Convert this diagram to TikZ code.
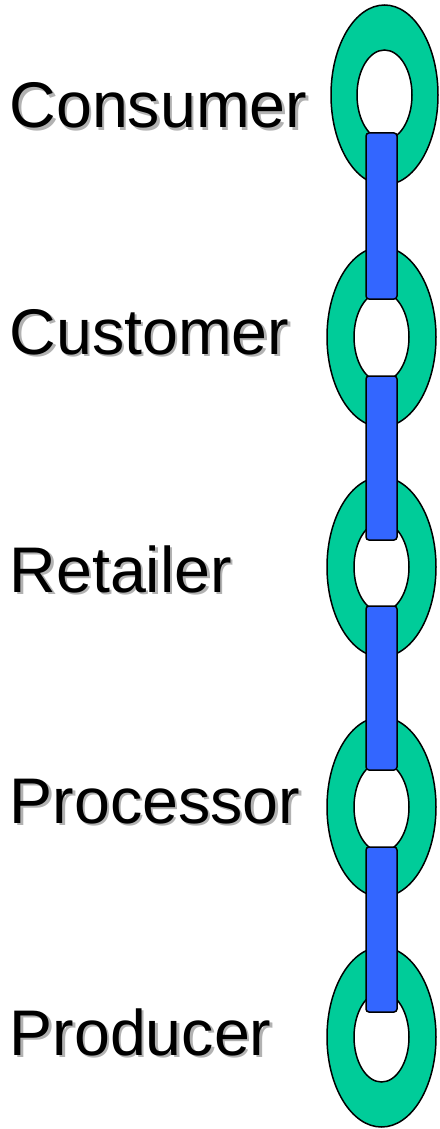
\documentclass[tikz,border=0pt]{standalone}
\usepackage{fontspec}
\setmainfont{Liberation Sans}
\definecolor{ringgreen}{RGB}{0,204,153}
\definecolor{barblue}{RGB}{51,102,255}
\definecolor{shadowgray}{RGB}{178,178,178}
\newcommand{\shadowtext}[1]{\rlap{\hspace{2.5pt}\raisebox{-2.5pt}{\color{shadowgray}#1}}#1}
\tikzset{
  ringshape/.style={draw=black, line width=1.5pt, fill=ringgreen, even odd rule},
  barbox/.style={draw=black, line width=1.5pt, fill=barblue, rounded corners=3pt},
  lbl/.style={anchor=base west, inner sep=0pt, font=\fontsize{64.5}{70}\selectfont},
}
\begin{document}
\begin{tikzpicture}[x=1pt, y=-1pt]
\useasboundingbox (0,0) rectangle (439,1129);
% ring centres
\coordinate (r1) at (384.5,95);
\coordinate (r2) at (381.5,337);
\coordinate (r3) at (381.5,567);
\coordinate (r4) at (381.5,807);
\coordinate (r5) at (381.5,1037);
% rings
\foreach \r/\ox in {r1/53.5, r2/54.5, r3/54.5, r4/54.5, r5/54.5}{
  \path[ringshape] (\r) ellipse [x radius=\ox, y radius=90] (\r) ellipse [x radius=27.5, y radius=45];
}
% bars
\draw[barbox] (366,133) rectangle (397,299) coordinate (b1);
\draw[barbox] (366,376) rectangle (397,540) coordinate (b2);
\draw[barbox] (366,606) rectangle (397,770) coordinate (b3);
\draw[barbox] (366,847) rectangle (397,1012) coordinate (b4);
% labels
\foreach \name/\txt/\y in {consumer/Consumer/128, customer/Customer/354, retailer/Retailer/592, processor/Processor/823, producer/Producer/1055}{
  \node[lbl] (\name) at (9.5,\y) {\shadowtext{\txt}};
}
\end{tikzpicture}
\end{document}
